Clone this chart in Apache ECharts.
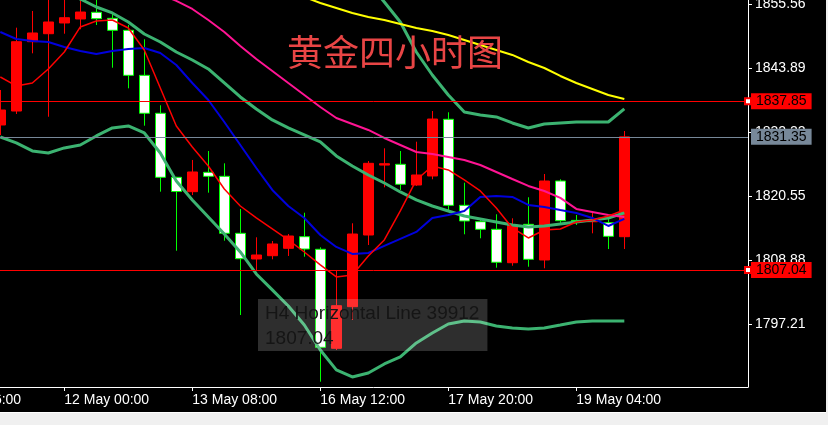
<!DOCTYPE html>
<html><head><meta charset="utf-8">
<script src="https://cdn.jsdelivr.net/npm/echarts@6/dist/echarts.min.js"></script>
<style>
html,body{margin:0;padding:0;background:#f0f0f0;width:828px;height:425px;overflow:hidden}
#chart{position:absolute;left:0;top:0;width:826px;height:412px;background:#000;border-bottom:1px solid #fff}
</style></head><body><div id="chart"></div>
<script>
// ---- data ----
const yTicks = [1797.21, 1808.88, 1820.55, 1832.22, 1843.89, 1855.56];
const xTickPos = [-4, 4, 12, 20, 28, 36];
const xTickLabels = ['10 May 16:00','12 May 00:00','13 May 08:00','16 May 12:00','17 May 20:00','19 May 04:00'];

const open  = [1833.52,1836.07,1848.73,1850.19,1852.15,1852.88,1854.10,1853.00,1850.81,1842.59,1835.66,1823.97,1821.34,1824.88,1824.15,1813.74,1809.05,1809.65,1811.00,1813.12,1810.82,1792.74,1800.34,1813.43,1826.20,1826.34,1822.56,1824.21,1834.56,1818.85,1815.86,1814.47,1808.37,1815.38,1808.87,1823.29,1816.10,1815.85,1815.68,1813.12];
const close = [1836.26,1848.73,1850.32,1852.33,1853.11,1854.15,1852.93,1850.81,1842.59,1835.66,1823.97,1821.37,1824.94,1824.15,1813.74,1809.10,1809.78,1811.79,1813.25,1810.87,1792.92,1800.52,1813.61,1826.52,1826.45,1822.69,1824.39,1834.61,1818.85,1815.99,1814.47,1808.45,1815.26,1808.99,1823.29,1816.04,1815.95,1816.00,1813.19,1831.35];
const low   = [1831.69,1835.53,1846.61,1835.03,1850.19,1851.00,1851.78,1843.98,1840.22,1833.39,1821.34,1810.56,1820.73,1821.16,1812.39,1798.82,1807.04,1808.99,1809.60,1809.47,1786.64,1792.43,1797.91,1811.60,1822.14,1821.65,1822.40,1823.60,1817.69,1813.56,1812.83,1807.46,1807.82,1807.64,1807.35,1815.38,1815.26,1813.74,1810.87,1810.87];
const high  = [1839.91,1851.29,1854.34,1858.50,1857.50,1858.00,1856.90,1854.03,1851.78,1849.17,1837.12,1824.05,1827.13,1828.77,1826.52,1818.18,1813.01,1812.33,1813.61,1817.50,1811.18,1807.04,1815.57,1826.94,1829.26,1828.77,1830.47,1836.07,1835.84,1822.98,1816.20,1817.21,1816.48,1820.32,1824.57,1823.60,1817.08,1817.69,1816.77,1832.42];

const maRed = [1842.29,1840.65,1841.19,1843.75,1846.85,1851.42,1852.52,1852.70,1851.24,1847.22,1840.28,1833.34,1829.51,1826.04,1821.84,1818.73,1816.54,1814.53,1812.53,1810.33,1807.96,1805.77,1806.13,1809.60,1812.53,1817.82,1823.48,1826.04,1825.31,1823.48,1821.47,1818.37,1814.72,1812.89,1814.35,1814.53,1815.81,1816.18,1816.91,1818.00];
const maBlue = [1850.51,1849.23,1848.86,1848.68,1847.77,1847.04,1846.49,1847.04,1847.40,1847.59,1846.67,1844.48,1841.19,1838.09,1834.07,1829.87,1825.67,1821.66,1818.73,1816.54,1813.44,1811.25,1809.97,1810.15,1811.43,1812.71,1813.99,1816.54,1817.09,1817.82,1820.38,1820.56,1820.38,1818.92,1818.55,1818.00,1817.46,1816.54,1815.08,1816.36];
const maPink = [null,null,null,null,null,null,null,null,null,null,1857.45,1856.17,1854.71,1852.70,1850.51,1847.95,1845.58,1843.39,1841.19,1839.00,1836.81,1834.80,1833.71,1832.61,1831.15,1829.87,1828.59,1828.23,1827.68,1827.13,1826.22,1824.94,1823.66,1822.39,1821.47,1820.20,1818.19,1817.64,1817.09,1816.73];
const maYellow = [null,null,null,null,null,null,null,null,null,null,null,null,null,null,null,null,null,null,null,1856.90,1855.80,1854.89,1853.98,1853.25,1852.70,1851.97,1851.24,1850.69,1849.96,1849.05,1848.13,1847.22,1846.31,1845.03,1843.93,1842.47,1841.19,1840.10,1839.00,1838.27];
const bbUpper = [null,null,null,null,null,null,null,null,null,null,null,null,null,null,null,null,null,null,null,null,null,null,1862.74,1859.45,1855.98,1852.33,1846.85,1842.65,1839.00,1835.90,1835.35,1834.99,1833.89,1832.98,1833.71,1833.89,1834.07,1834.07,1834.07,1836.45];
const bbMid = [null,null,null,null,1857.63,1856.53,1855.07,1853.98,1852.33,1850.14,1848.68,1846.85,1845.39,1843.75,1841.19,1838.64,1836.45,1834.44,1832.98,1831.70,1830.42,1827.86,1826.04,1824.39,1822.93,1821.29,1819.83,1818.73,1817.82,1816.91,1816.36,1815.81,1815.26,1814.90,1815.08,1815.45,1815.81,1816.18,1816.54,1817.46];
const bbLower = [1831.33,1830.24,1828.78,1828.41,1829.33,1829.87,1831.52,1832.98,1833.34,1832.06,1828.41,1823.30,1819.83,1816.73,1813.62,1810.33,1806.32,1803.40,1800.47,1797.00,1792.44,1788.79,1787.51,1788.24,1789.88,1791.16,1793.72,1795.54,1797.19,1797.74,1797.55,1796.82,1796.46,1796.27,1796.46,1797.00,1797.55,1797.74,1797.74,1797.74];

const hLines = [1837.85, 1807.04];
const bidPrice = 1831.35;
const lineName = 'H4 Horizontal Line 39912';
const titleText = '黄金四小时图';

// ---- chart ----
const FONT = 'Liberation Sans';
const pts = arr => arr.map((v, i) => [i, v]);
const lineSeries = (arr, color, width, extra) => Object.assign({
  type: 'line', data: pts(arr), showSymbol: false, symbol: 'none', silent: true,
  lineStyle: { color: color, width: width }, clip: true, animation: false
}, extra || {});

const chart = echarts.init(document.getElementById('chart'), null, { renderer: 'canvas' });
chart.setOption({
  backgroundColor: '#000',
  animation: false,
  title: [
    { text: titleText, left: 287, top: 34, padding: 0,
      textStyle: { color: '#e84545', fontSize: 36, fontWeight: 'normal', fontFamily: 'Noto Sans CJK SC' } },
    { text: lineName + '\n' + hLines[1].toFixed(2), left: 258, top: 299, padding: [2, 8, 0, 7],
      backgroundColor: 'rgba(255,255,255,0.18)',
      textStyle: { color: '#151515', fontSize: 19, lineHeight: 25, fontWeight: 'normal', fontFamily: FONT } }
  ],
  grid: { left: -79.7, right: 78, top: 0, bottom: 25, containLabel: false, outerBoundsMode: 'none' },
  xAxis: {
    type: 'value', min: -5, max: 46.73,
    axisLine: { show: true, onZero: false, lineStyle: { color: '#fff', width: 1 } },
    axisTick: { show: true, customValues: xTickPos, length: 4, lineStyle: { color: '#fff' } },
    axisLabel: { customValues: xTickPos, color: '#fff', fontSize: 14, fontFamily: FONT, align: 'left', margin: 6,
      formatter: v => xTickLabels[xTickPos.indexOf(Math.round(v))] || '' },
    splitLine: { show: false }
  },
  yAxis: {
    type: 'value', position: 'right', min: 1785.673, max: 1856.345,
    axisLine: { show: true, onZero: false, lineStyle: { color: '#fff', width: 1 } },
    axisTick: { show: true, customValues: yTicks, length: 4, lineStyle: { color: '#fff' } },
    axisLabel: { customValues: yTicks, color: '#fff', fontSize: 14, fontFamily: FONT, margin: 7,
      formatter: v => Number(v).toFixed(2) },
    splitLine: { show: false }
  },
  series: [
    {
      type: 'candlestick', silent: true, barWidth: 10, clip: true,
      encode: { x: 0, y: [1, 2, 3, 4] },
      data: open.map((o, i) => [i, o, close[i], low[i], high[i]]),
      itemStyle: { color: '#ff0000', color0: '#ffffff', borderColor: '#ff0000', borderColor0: '#00ff00', borderWidth: 1 },
      markLine: {
        silent: true, animation: false, symbol: ['none', 'emptyRect'], symbolSize: 6,
        lineStyle: { type: 'solid', width: 1, color: '#ff0000' },
        label: { position: 'end', distance: 3, formatter: p => Number(p.value).toFixed(2),
          backgroundColor: '#ff0000', color: '#000', fontSize: 14, fontFamily: FONT, padding: [1, 5, 1, 5] },
        emphasis: { disabled: true },
        data: hLines.map(v => ({ yAxis: v }))
      }
    },
    lineSeries(bbLower, '#3cb371', 3, {
      markLine: {
        silent: true, animation: false, symbol: ['none', 'none'],
        lineStyle: { type: 'solid', width: 1, color: '#778899' },
        label: { position: 'end', distance: 3, formatter: p => Number(p.value).toFixed(2),
          backgroundColor: '#778899', color: '#000', fontSize: 14, fontFamily: FONT, padding: [1, 5, 1, 5] },
        emphasis: { disabled: true },
        data: [{ yAxis: bidPrice }]
      }
    }),
    lineSeries(bbMid, '#3cb371', 3),
    lineSeries(bbUpper, '#3cb371', 3),
    lineSeries(maYellow, '#ffff00', 2),
    lineSeries(maPink, '#ff1493', 2),
    lineSeries(maBlue, '#0000dd', 2),
    lineSeries(maRed, '#ff0000', 1.5)
  ]
});
</script></body></html>
